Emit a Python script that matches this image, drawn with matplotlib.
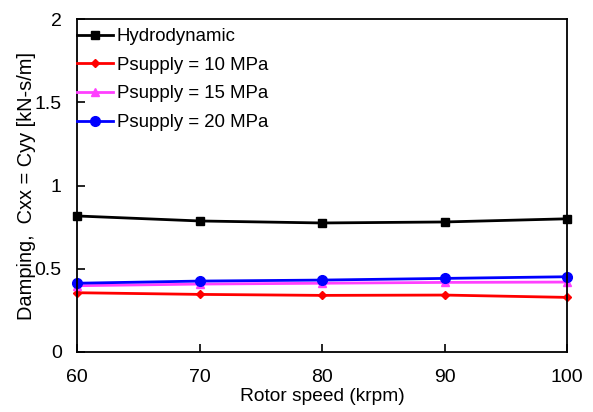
import matplotlib
matplotlib.use('Agg')
import matplotlib.pyplot as plt

speed = [60, 70, 80, 90, 100]
hydro = [0.817, 0.787, 0.775, 0.781, 0.800]
p10 = [0.356, 0.346, 0.340, 0.342, 0.328]
p15 = [0.398, 0.408, 0.413, 0.418, 0.420]
p20 = [0.413, 0.426, 0.432, 0.442, 0.452]

plt.rcParams['font.family'] = ['Liberation Sans', 'DejaVu Sans']
plt.rcParams['font.size'] = 13.4

fig = plt.figure(figsize=(5.93, 4.12), dpi=100)
ax = fig.add_axes([77/593, 1 - 352/412, (567-77)/593, (352-19)/412])

ax.plot(speed, hydro, color='black', marker='s', markersize=6, lw=2, label='Hydrodynamic', clip_on=False)
ax.plot(speed, p10, color='#ff0000', marker='D', markersize=4, lw=2, label='Psupply = 10 MPa', clip_on=False)
ax.plot(speed, p15, color='#ff40ff', marker='^', markersize=6, lw=2, label='Psupply = 15 MPa', clip_on=False)
ax.plot(speed, p20, color='#0000ff', marker='o', markersize=7, lw=2, label='Psupply = 20 MPa', clip_on=False)

ax.set_xlim(60, 100)
ax.set_ylim(0, 2)
ax.set_xticks([60, 70, 80, 90, 100])
ax.set_yticks([0, 0.5, 1, 1.5, 2])
ax.set_yticklabels(['0', '0.5', '1', '1.5', '2'])
ax.tick_params(direction='in', length=6, width=1.2, top=False, right=False, labelsize=14)
ax.tick_params(axis='x', pad=12)
ax.tick_params(axis='y', pad=11)
for s in ax.spines.values():
    s.set_linewidth(1.3)

ax.set_xlabel('Rotor speed (krpm)', fontsize=13.8, labelpad=2)
ax.set_ylabel('Damping,  Cxx = Cyy [kN-s/m]', fontsize=14.4, labelpad=-1)

ax.legend(loc='upper left', frameon=False, handlelength=1.9, handletextpad=0.22,
          borderaxespad=0.0, borderpad=0.5, labelspacing=0.62,
          bbox_to_anchor=(-9/490, 1.0))

fig.savefig('out.png', dpi=100)
